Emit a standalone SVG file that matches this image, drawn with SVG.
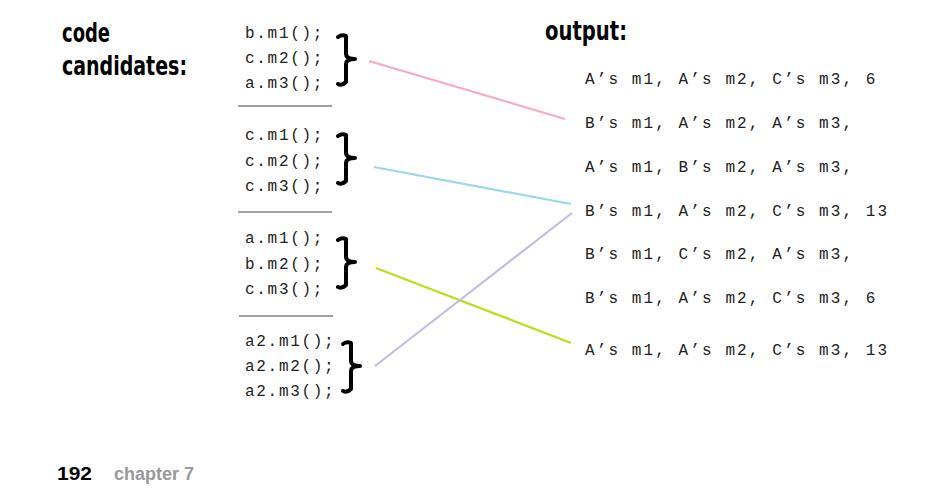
<svg xmlns="http://www.w3.org/2000/svg" width="929" height="503" viewBox="0 0 929 503">
<style>
.h{font-family:"DejaVu Sans Condensed","DejaVu Sans",sans-serif;font-weight:bold;font-size:27px;fill:#000}
.c{font-family:"Liberation Mono","Courier New",monospace;font-size:16px;letter-spacing:1.7px;fill:#222}
.o{font-family:"Liberation Mono","Courier New",monospace;font-size:16px;letter-spacing:2.1px;fill:#222}
.sep{stroke:#444;stroke-width:1.2}
.br{fill:none;stroke:#000;stroke-width:4;stroke-linecap:round;stroke-linejoin:round}
.ln{stroke-width:2.2;fill:none}
.f{font-family:"Liberation Sans",Arial,sans-serif;font-weight:bold;font-size:18px}
</style>
<rect width="929" height="503" fill="#fff"/>
<g id="headings">
<text class="h" x="62" y="42" textLength="48" lengthAdjust="spacingAndGlyphs">code</text>
<text class="h" x="62" y="75" textLength="125" lengthAdjust="spacingAndGlyphs">candidates:</text>
<text class="h" x="545" y="40" textLength="82" lengthAdjust="spacingAndGlyphs">output:</text>
</g>
<g id="candidate1">
<text class="c" x="245" y="38">b.m1();</text>
<text class="c" x="245" y="63">c.m2();</text>
<text class="c" x="245" y="88">a.m3();</text>
<path class="br" d="M338,37 Q342,34 346,36 L346,54 Q346,59 355,59 Q346,59 346,64 L346,82 Q342,86 338,84"/>
</g>
<line class="sep" x1="238" y1="106" x2="332" y2="106"/>
<g id="candidate2">
<text class="c" x="245" y="140">c.m1();</text>
<text class="c" x="245" y="166">c.m2();</text>
<text class="c" x="245" y="191">c.m3();</text>
<path class="br" d="M338,136 Q342,133 346,135 L346,153 Q346,158 355,158 Q346,158 346,163 L346,181 Q342,185 338,183"/>
</g>
<line class="sep" x1="238" y1="212" x2="332" y2="212"/>
<g id="candidate3">
<text class="c" x="245" y="243">a.m1();</text>
<text class="c" x="245" y="269">b.m2();</text>
<text class="c" x="245" y="294">c.m3();</text>
<path class="br" d="M338,240 Q342,237 346,239 L346,257 Q346,262 355,262 Q346,262 346,267 L346,285 Q342,289 338,287"/>
</g>
<line class="sep" x1="239" y1="316" x2="333" y2="316"/>
<g id="candidate4">
<text class="c" x="245" y="346">a2.m1();</text>
<text class="c" x="245" y="371">a2.m2();</text>
<text class="c" x="245" y="396">a2.m3();</text>
<path class="br" d="M343,344 Q347,341 351,343 L351,361 Q351,366 360,366 Q351,366 351,371 L351,389 Q347,393 343,391"/>
</g>
<g id="outputs">
<text class="o" x="585" y="84">A’s m1, A’s m2, C’s m3, 6</text>
<text class="o" x="585" y="128">B’s m1, A’s m2, A’s m3,</text>
<text class="o" x="585" y="172">A’s m1, B’s m2, A’s m3,</text>
<text class="o" x="585" y="216">B’s m1, A’s m2, C’s m3, 13</text>
<text class="o" x="585" y="259">B’s m1, C’s m2, A’s m3,</text>
<text class="o" x="585" y="303">B’s m1, A’s m2, C’s m3, 6</text>
<text class="o" x="585" y="355">A’s m1, A’s m2, C’s m3, 13</text>
</g>
<g id="connectors">
<line class="ln" stroke="#f7a9c9" x1="369" y1="61" x2="565" y2="119"/>
<line class="ln" stroke="#9ad8e6" x1="374" y1="167" x2="571" y2="204"/>
<line class="ln" stroke="#b7e01c" x1="376" y1="268" x2="571" y2="343"/>
<line class="ln" stroke="#c3bce2" x1="375" y1="366" x2="572" y2="213"/>
</g>
<g id="footer">
<text class="f" x="57" y="480" fill="#000" font-size="19" textLength="35" lengthAdjust="spacingAndGlyphs">192</text>
<text class="f" x="114" y="480" fill="#999">chapter 7</text>
</g>
</svg>
